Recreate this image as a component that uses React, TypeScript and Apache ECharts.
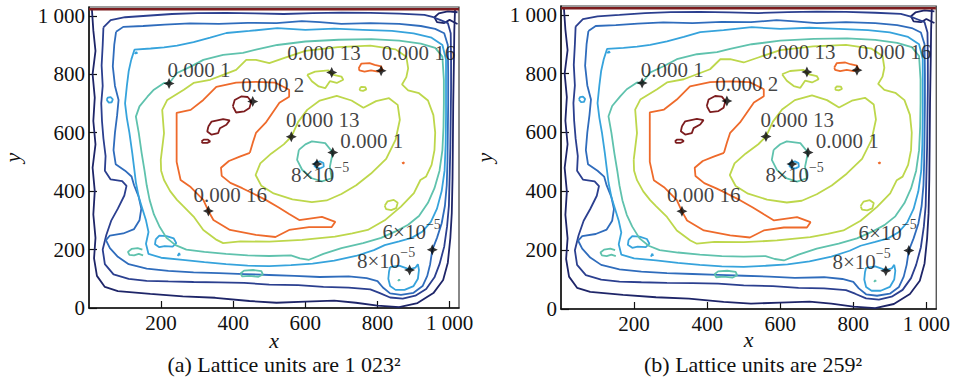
import React, { useEffect, useRef } from 'react';
import * as echarts from 'echarts';

const xTicks = [200, 400, 600, 800, 1000];
const yTicks = [0, 200, 400, 600, 800, 1000];
const captions = ['(a) Lattice units are 1 023²', '(b) Lattice units are 259²'];

// contour lines (x, y in lattice coordinates)
const navyOuter = [[8,1023],[12,950],[18,880],[10,800],[16,720],[12,640],[18,560],[10,480],[16,400],[12,320],[18,240],[14,170],[22,110],[44,72],[80,58],[170,48],[260,40],[350,35],[445,24],[520,18],[600,22],[680,25],[740,18],[800,8],[860,3],[911,17],[955,51],[982,96],[995,155],[1002,240],[1006,325],[1008,440],[1009,560],[1010,700],[1012,850],[1013,950],[1015,1023]];
const navyCorner = [[1022,1012],[995,1015],[970,1008],[958,995],[965,978],[985,975],[1000,986],[1012,978],[1022,972]];
const navyBlue = [[40,960],[60,985],[100,995],[160,1000],[230,1006],[300,1009],[380,1010],[460,1008],[540,1006],[620,1009],[700,1011],[780,1010],[860,1007],[930,1003],[955,995],[975,985],[995,975],[1003,940],[1004,850],[1004,750],[1003,650],[1002,550],[1000,450],[998,350],[993,280],[985,210],[972,150],[958,105],[935,65],[905,42],[870,32],[835,36],[805,52],[780,64],[720,70],[650,72],[580,78],[500,80],[430,86],[360,88],[290,89],[220,91],[160,93],[110,100],[68,115],[44,150],[38,200],[48,250],[62,300],[80,340],[98,385],[104,418],[92,434],[60,440],[44,470],[46,520],[40,580],[36,640],[34,700],[38,760],[35,830],[38,900],[40,960]];
const blueLine = [[75,945],[95,962],[150,965],[210,970],[280,974],[360,972],[440,976],[520,975],[590,982],[640,978],[700,972],[780,975],[860,972],[920,965],[960,955],[985,940],[995,900],[996,800],[996,700],[995,600],[994,500],[992,420],[987,350],[978,290],[965,240],[952,199],[946,150],[938,110],[925,75],[900,52],[865,45],[835,50],[815,70],[800,92],[770,102],[720,108],[640,106],[570,110],[500,113],[430,116],[360,119],[290,122],[220,127],[160,135],[110,150],[80,175],[58,205],[47,232],[58,248],[95,255],[125,270],[140,300],[145,340],[138,380],[125,420],[118,450],[100,470],[74,492],[68,540],[72,600],[78,660],[82,712],[72,760],[66,827],[70,900],[75,945]];
const lightBlueMain = [[117,849],[126,884],[171,888],[208,892],[244,898],[290,910],[336,925],[381,941],[445,948],[522,958],[600,952],[680,956],[760,952],[840,948],[900,940],[950,925],[980,900],[990,850],[990,760],[990,660],[989,560],[986,470],[978,400],[965,340],[948,295],[925,262],[895,240],[860,228],[820,215],[790,198],[740,178],[680,162],[620,152],[560,147],[500,143],[440,145],[380,150],[320,157],[260,165],[200,172],[165,185],[158,220],[165,260],[158,300],[148,340],[138,380],[130,430],[125,480],[120,530],[112,600],[105,650],[100,700],[105,760],[110,810],[117,849]];
const lightBlueLoopBR = [[835,140],[860,145],[889,132],[905,138],[912,150],[915,130],[912,100],[900,75],[875,62],[850,62],[835,75],[830,100],[832,125],[835,140]];
const lightBlueCenter = [[624,488],[628,498],[640,502],[650,496],[651,484],[642,478],[630,480],[624,488]];
const lightBlueCircle = [[49,712],[52,720],[60,722],[66,714],[63,704],[55,703],[49,712]];
const lightBlueBlob = [[185,235],[195,248],[215,246],[235,238],[242,222],[232,210],[210,212],[195,208],[183,218],[185,235]];
const lightBlueDotA = [[246,178],[250,188],[252,180]];
const lightBlueDotB = [[127,869],[131,876],[134,870]];
const tealMain = [[138,599],[130,655],[140,690],[162,723],[180,747],[208,770],[222,768],[244,804],[282,826],[317,849],[372,866],[427,873],[463,884],[522,900],[600,912],[692,918],[783,920],[860,915],[920,905],[960,890],[980,860],[984,780],[984,700],[983,620],[980,540],[972,470],[958,410],[940,360],[915,315],[885,285],[850,262],[810,240],[760,222],[700,205],[650,185],[610,165],[585,170],[560,180],[500,178],[440,180],[380,185],[320,192],[270,200],[240,215],[215,240],[195,280],[180,320],[168,370],[160,420],[154,470],[146,530],[138,599]];
const tealCenter = [[582,541],[600,560],[618,570],[655,564],[676,532],[668,484],[673,444],[646,433],[618,444],[591,473],[577,507],[582,541]];
const tealHook = [[148,200],[135,205],[118,202],[108,192],[112,182],[125,180],[138,185],[150,180]];
const tealSmall = [[420,118],[430,128],[455,130],[478,126],[482,115],[470,107],[445,110],[425,108],[420,118]];
const tealDot = [[857,92],[860,98],[862,93]];
const ygOuter = [[199,507],[208,598],[203,678],[217,712],[263,747],[290,770],[336,781],[372,798],[408,815],[436,849],[463,849],[500,838],[540,855],[600,880],[690,893],[780,898],[850,885],[880,860],[885,820],[880,790],[868,765],[885,745],[915,735],[940,710],[955,660],[960,600],[958,540],[950,490],[935,450],[919,438],[901,393],[865,347],[820,300],[773,267],[730,255],[682,244],[591,233],[500,227],[420,228],[372,222],[354,233],[317,267],[290,313],[260,350],[244,370],[225,400],[208,438],[200,470],[199,507]];
const ygInner = [[561,586],[540,560],[505,528],[475,495],[462,455],[478,418],[512,392],[564,372],[618,362],[659,368],[700,390],[741,420],[782,460],[824,510],[850,575],[862,644],[856,695],[832,718],[796,708],[761,685],[728,710],[687,726],[640,710],[605,678],[580,637],[561,586]];
const ygLoopTop = [[605,798],[627,809],[664,813],[678,798],[700,792],[705,781],[687,770],[668,776],[655,752],[637,758],[618,776],[605,798]];
const ygLoopTiny = [[750,750],[755,757],[766,756],[769,748],[760,743],[752,745],[750,750]];
const ygLoopRight = [[820,350],[828,365],[845,370],[856,360],[852,342],[838,335],[824,338],[820,350]];
const orangeMain = [[446,531],[418,518],[388,503],[366,480],[368,452],[392,428],[425,410],[455,392],[490,370],[525,345],[555,322],[583,301],[646,312],[683,295],[673,277],[610,277],[555,267],[517,243],[463,250],[391,267],[345,301],[331,332],[317,370],[282,414],[254,438],[243,500],[243,599],[243,668],[282,678],[317,712],[353,757],[408,771],[463,774],[517,771],[555,747],[555,723],[528,702],[490,634],[463,599],[454,565],[446,531]];
const orangeTop = [[748,821],[755,836],[778,838],[792,832],[810,827],[814,815],[801,809],[782,813],[764,809],[750,813],[748,821]];
const orangeDot = [[868,495],[874,499],[871,493]];
const darkRedA = [[399,690],[404,712],[422,724],[440,722],[450,707],[445,684],[431,673],[408,669],[399,690]];
const darkRedB = [[331,621],[340,638],[372,646],[390,642],[381,627],[363,615],[358,598],[340,593],[328,604],[331,621]];
const darkRedC = [[312,570],[318,576],[330,576],[336,570],[328,565],[315,565],[312,570]];
const topEdge = [[0,1022],[1026,1022]];

// labelled points and their texts
const markerPoints = [[222,768],[454,707],[673,806],[810,812],[561,586],[676,532],[632,493],[331,332],[952,199],[889,130]];
const labelTexts = ['0.000 1','0.000 2','0.000 13','0.000 16','0.000 13','0.000 1','8×10{s|−5}','0.000 16','6×10{s|−5}','8×10{s|−5}'];
const labelAnchors = [[218,813],[422,764],[550,872],[812,872],[546,642],[697,570],[560,454],[290,387],[814,260],[743,161]];

const colors = {
  A: '#1e2568', B: '#2b3f8f', C: '#2f6cbc', D: '#36a3dc',
  E: '#5fc2ad', F: '#bdd74b', G: '#ee6a2b', H: '#7c1c1e',
};

const contours: [number[][], string][] = [
  [navyOuter, colors.A], [navyCorner, colors.A], [navyBlue, colors.B], [blueLine, colors.C],
  [lightBlueMain, colors.D], [lightBlueLoopBR, colors.D], [lightBlueCenter, colors.D],
  [lightBlueCircle, colors.D], [lightBlueBlob, colors.D], [lightBlueDotA, colors.D], [lightBlueDotB, colors.D],
  [tealMain, colors.E], [tealCenter, colors.E], [tealHook, colors.E], [tealSmall, colors.E], [tealDot, colors.E],
  [ygOuter, colors.F], [ygInner, colors.F], [ygLoopTop, colors.F], [ygLoopTiny, colors.F], [ygLoopRight, colors.F],
  [orangeMain, colors.G], [orangeTop, colors.G], [orangeDot, colors.G],
  [darkRedA, colors.H], [darkRedB, colors.H], [darkRedC, colors.H], [topEdge, colors.H],
];

const FONT = "'Liberation Serif', 'DejaVu Serif', serif";
const INK = '#111';
const STAR = 'path://M0,-10 L3.2,-3.2 L10,0 L3.2,3.2 L0,10 L-3.2,3.2 L-10,0 L-3.2,-3.2 Z';

const grids = [
  { left: 84, top: 7, width: 375, height: 301, xMax: 1026, nameGap: 25 },
  { left: 561, top: 6, width: 379, height: 303, xMax: 1027, nameGap: 23 },
];
const captionCenters = [279, 748];

function fmt(v: number) {
  return v === 1000 ? '1 000' : String(v);
}

export default function App() {
  const ref = useRef<HTMLDivElement>(null);
  useEffect(() => {
    const chart = echarts.init(ref.current as HTMLDivElement, null, { renderer: 'svg' });
    const series: any[] = [];
    grids.forEach((_, g) => {
      contours.forEach(([pts, color]) => {
        series.push({
          type: 'line', xAxisIndex: g, yAxisIndex: g, data: pts,
          showSymbol: false, symbol: 'none', silent: true, clip: true,
          lineStyle: { color, width: pts === topEdge ? 2.5 : 1.8 },
          z: 2,
        });
      });
      series.push({
        type: 'scatter', xAxisIndex: g, yAxisIndex: g, data: markerPoints,
        symbol: STAR, symbolSize: 11, itemStyle: { color: '#000' }, z: 5, silent: true,
      });
      series.push({
        type: 'scatter', xAxisIndex: g, yAxisIndex: g,
        data: labelAnchors.map((p, i) => ({ value: p, label: { formatter: labelTexts[i] } })),
        symbolSize: 1, itemStyle: { color: 'transparent' }, z: 6, silent: true,
        label: {
          show: true, position: 'inside', align: 'left', verticalAlign: 'middle',
          fontFamily: FONT, fontSize: 21, color: INK,
          rich: { s: { fontSize: 14, fontFamily: FONT, color: INK, verticalAlign: 'top', lineHeight: 30 } },
        },
      });
    });

    chart.setOption({
      animation: false,
      backgroundColor: '#fff',
      title: captions.map((t, i) => ({
        text: t, left: captionCenters[i], top: 348, textAlign: 'center',
        textStyle: { fontFamily: FONT, fontSize: 22, fontWeight: 'normal', color: INK, lineHeight: 22 },
      })),
      grid: grids.map((g) => ({
        left: g.left, top: g.top, width: g.width, height: g.height,
        show: true, borderColor: '#3a3a3a', borderWidth: 1.2, backgroundColor: 'transparent',
      })),
      xAxis: grids.map((g, i) => ({
        gridIndex: i, type: 'value', min: 0, max: g.xMax, interval: 200,
        axisLine: { show: true, onZero: false, lineStyle: { color: '#111', width: 1.5 } },
        axisTick: { show: true, inside: true, length: 7, customValues: xTicks, lineStyle: { color: '#111', width: 1.2 } },
        axisLabel: { customValues: xTicks, formatter: fmt, fontFamily: FONT, fontSize: 21, color: INK, margin: 4 },
        splitLine: { show: false },
        name: 'x', nameLocation: 'middle', nameGap: g.nameGap, nameMoveOverlap: false,
        nameTextStyle: { fontFamily: FONT, fontStyle: 'italic', fontSize: 22, color: INK, lineHeight: 14 },
      })),
      yAxis: grids.map((g, i) => ({
        gridIndex: i, type: 'value', min: 0, max: 1030, interval: 200,
        axisLine: { show: true, onZero: false, lineStyle: { color: '#111', width: 1.5 } },
        axisTick: { show: true, inside: true, length: 8, customValues: yTicks, lineStyle: { color: '#111', width: 1.2 } },
        axisLabel: { customValues: yTicks, formatter: fmt, fontFamily: FONT, fontSize: 21, color: INK, margin: 4 },
        splitLine: { show: false },
        name: 'y', nameLocation: 'middle', nameGap: 66, nameMoveOverlap: false,
        nameTextStyle: { fontFamily: FONT, fontStyle: 'italic', fontSize: 22, color: INK },
      })),
      series,
    });
    return () => chart.dispose();
  }, []);
  return <div ref={ref} style={{ position: 'fixed', left: 0, top: 0, width: 953, height: 379 }} />;
}
